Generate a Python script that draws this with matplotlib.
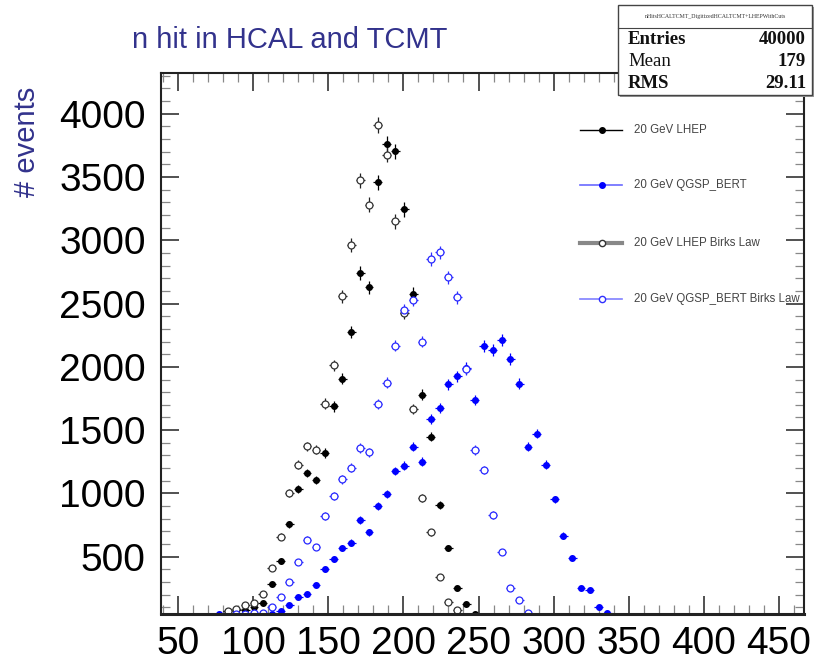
import matplotlib.pyplot as plt
from matplotlib.lines import Line2D
from matplotlib.patches import Rectangle
import numpy as np

#// bin centres (same grid for all 4 histograms)
bins = [77.1, 83.0, 88.9, 94.8, 100.6, 106.5, 112.4, 118.3, 124.2, 130.0,
        135.9, 141.8, 147.7, 153.6, 159.4, 165.3, 171.2, 177.1, 183.0, 188.8,
        194.7, 200.6, 206.5, 212.4, 218.2, 224.1, 230.0, 235.9, 241.8, 247.6,
        253.5, 259.4, 265.3, 271.2, 277.0, 282.9, 288.8, 294.7, 300.6, 306.4,
        312.3, 318.2, 324.1, 330.0, 335.8]
half_bin = 2.94

#// entries per bin (0 = empty bin)
lhep = [0, 70, 79, 79, 100, 135, 283, 466, 757, 1032,
        1162, 1107, 1320, 1688, 1905, 2274, 2741, 2630, 3457, 3763,
        3702, 3244, 2578, 1779, 1449, 909, 567, 250, 126, 45,
        0, 0, 0, 0, 0, 0, 0, 0, 0, 0,
        0, 0, 0, 0, 0]
qgsp = [47, 53, 50, 50, 50, 50, 50, 74, 118, 180,
        203, 275, 401, 481, 572, 611, 790, 693, 901, 994,
        1178, 1220, 1370, 1252, 1589, 1673, 1863, 1925, 1990, 1739,
        2165, 2132, 2213, 2061, 1865, 1370, 1473, 1225, 952, 666,
        492, 256, 237, 105, 53]
lhep_birks = [0, 70, 90, 118, 137, 203, 413, 659, 1006, 1228,
              1372, 1345, 1710, 2011, 2556, 2964, 3473, 3281, 3908, 3676,
              3149, 2424, 1665, 967, 693, 342, 145, 79, 0, 0,
              0, 0, 0, 0, 0, 0, 0, 0, 0, 0,
              0, 0, 0, 0, 0]
qgsp_birks = [0, 0, 45, 50, 53, 55, 105, 179, 298, 461,
              635, 580, 822, 978, 1111, 1202, 1360, 1326, 1708, 1876,
              2168, 2451, 2530, 2200, 2851, 2904, 2709, 2548, 1980, 1344,
              1186, 830, 538, 254, 155, 53, 0, 0, 0, 0,
              0, 0, 0, 0, 0]

labels = ["20 GeV LHEP", "20 GeV QGSP_BERT", "20 GeV LHEP Birks Law", "20 GeV QGSP_BERT Birks Law"]
xticks = [50, 100, 150, 200, 250, 300, 350, 400, 450]
yticks = [500, 1000, 1500, 2000, 2500, 3000, 3500, 4000]

stats_title = "nHitsHCALTCMT_DigitizedHCALTCMT+LHEPWithCuts"
stats_rows = [("Entries", "40000"), ("Mean", "179"), ("RMS", "29.11")]

navy = "#32328c"
plt.rcParams['font.family'] = ['Liberation Sans', 'DejaVu Sans']

fig = plt.figure(figsize=(8.19, 6.70), dpi=100)
ax = fig.add_axes([161/819, 1-614/670, (804-161)/819, (614-73)/670])

x = np.array(bins)
styles = [
    (lhep, dict(marker='o', ms=4.0, mfc='black', mec='black', color='black')),
    (qgsp, dict(marker='o', ms=4.0, mfc='blue', mec='blue', color='blue')),
    (lhep_birks, dict(marker='o', ms=5.0, mfc='white', mec='#333333', mew=0.9, color='#222222')),
    (qgsp_birks, dict(marker='o', ms=5.0, mfc='white', mec='#2828ff', mew=0.9, color='#3030ff')),
]
for vals, st in styles:
    y = np.array(vals, dtype=float)
    m = y > 0
    ax.errorbar(x[m], y[m], yerr=np.sqrt(y[m]), xerr=half_bin, linestyle='none',
                elinewidth=0.9, capsize=0, **st)

ax.set_xlim(38.7, 466.6)
ax.set_ylim(47, 4322)
ax.set_xticks(xticks)
ax.set_yticks(yticks)
ax.set_xticks(np.arange(40, 470, 10), minor=True)
ax.set_yticks(np.arange(100, 4322, 100), minor=True)
ax.tick_params(which='both', direction='in', top=True, right=True, colors='#333333')
ax.tick_params(which='major', length=13, width=1.2, labelsize=28, labelcolor='black')
ax.tick_params(axis='y', which='major', pad=11)
ax.tick_params(axis='x', which='major', pad=9)
ax.tick_params(which='minor', length=6.5, width=0.9, colors='#888888')
for s in ax.spines.values():
    s.set_linewidth(1.5)
    s.set_color('#222222')
ax.spines['bottom'].set_linewidth(2.2)

#// title and y title like ROOT puts them
fig.text(132/819, 1-40/670, "n hit in HCAL and TCMT", ha='left', va='center',
         fontsize=21, color=navy)
fig.text(27/819, 1-87/670, "# events", rotation=90, ha='center', va='top',
         fontsize=21, color=navy)

#// legend drawn by hand (no frame)
leg_y = [130, 185, 243, 299]
leg_line = [('black', 1.0, 'o', 4.0, 'black', 'black'),
            ('#6a6aff', 1.2, 'o', 4.0, 'blue', 'blue'),
            ('#888888', 3.0, 'o', 4.5, 'white', '#333333'),
            ('#8080ff', 1.2, 'o', 4.5, 'white', '#3030ff')]
for yy, lab, (lc, lw, mk, ms, mfc, mec) in zip(leg_y, labels, leg_line):
    yf = 1 - yy/670
    fig.add_artist(Line2D([580/819, 602/819, 622/819], [yf, yf, yf], color=lc, lw=lw,
                          marker=mk, ms=ms, mfc=mfc, mec=mec, markevery=[1],
                          transform=fig.transFigure))
    fig.text(634/819, yf, lab, ha='left', va='center', fontsize=8.3, color='#444444')

#// stats box
bx0, bx1, by0, by1 = 618/819, 812/819, 1-95/670, 1-5/670
fig.add_artist(Rectangle((bx0 + 2/819, by0 - 2/670), bx1-bx0, by1-by0, transform=fig.transFigure,
                         facecolor='#999999', edgecolor='none', zorder=5))
fig.add_artist(Rectangle((bx0, by0), bx1-bx0, by1-by0, transform=fig.transFigure,
                         facecolor='white', edgecolor='#444444', lw=1.0, zorder=6))
fig.add_artist(Line2D([bx0, bx1], [1-28/670, 1-28/670], color='#444444', lw=0.8,
                      transform=fig.transFigure, zorder=7))
fig.text((bx0+bx1)/2, 1-16.5/670, stats_title, ha='center', va='center', fontsize=4.2,
         family='Liberation Serif', color='#333333', zorder=8)
for (name, val), yy in zip(stats_rows, [39, 62, 83]):
    w = 'normal' if name == "Mean" else 'bold'
    fig.text(628/819, 1-yy/670, name, ha='left', va='center', fontsize=13.5,
             family='Liberation Serif', fontweight=w, color='#111111', zorder=8)
    fig.text(806/819, 1-yy/670, val, ha='right', va='center', fontsize=13.5,
             family='Liberation Serif', fontweight='bold', color='#111111', zorder=8)

plt.savefig("out.png", dpi=100)
